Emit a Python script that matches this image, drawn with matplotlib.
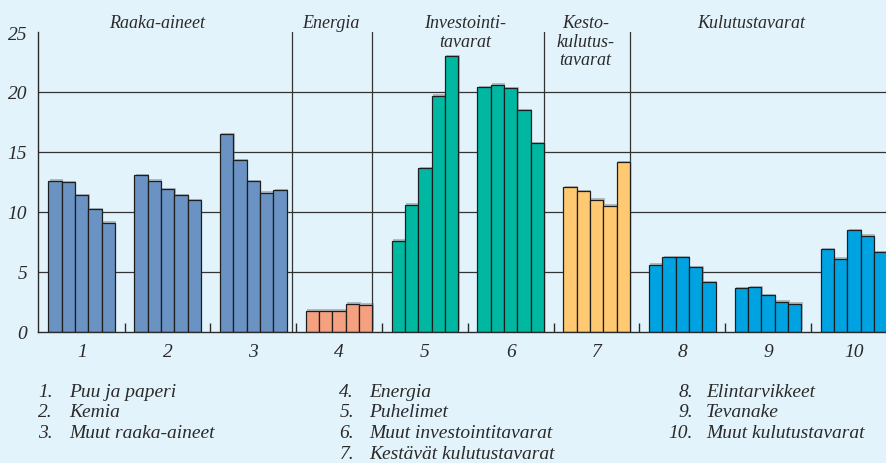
import matplotlib
matplotlib.use("Agg")
import matplotlib.pyplot as plt
import matplotlib.patheffects as pe
import numpy as np

# Five yearly bars per product group
groups = ["1", "2", "3", "4", "5", "6", "7", "8", "9", "10"]
g1_puu = [12.6, 12.45, 11.4, 10.2, 9.1]
g2_kemia = [13.05, 12.6, 11.9, 11.4, 10.95]
g3_muut_raaka = [16.5, 14.3, 12.55, 11.6, 11.8]
g4_energia = [1.75, 1.75, 1.75, 2.35, 2.25]
g5_puhelimet = [7.6, 10.6, 13.65, 19.7, 23.0]
g6_muut_invest = [20.4, 20.6, 20.3, 18.5, 15.7]
g7_kestavat = [12.05, 11.7, 11.0, 10.5, 14.15]
g8_elintarvikkeet = [5.6, 6.2, 6.2, 5.4, 4.15]
g9_tevanake = [3.65, 3.72, 3.07, 2.5, 2.35]
g10_muut_kulutus = [6.9, 6.1, 8.45, 8.0, 6.65]

series = [g1_puu, g2_kemia, g3_muut_raaka, g4_energia, g5_puhelimet,
          g6_muut_invest, g7_kestavat, g8_elintarvikkeet, g9_tevanake,
          g10_muut_kulutus]

c_raaka = "#6A92C2"
c_energia = "#F5A07F"
c_invest = "#00B8A2"
c_kesto = "#FFC972"
c_kulutus = "#00A3E2"
colors = [c_raaka, c_raaka, c_raaka, c_energia, c_invest, c_invest,
          c_kesto, c_kulutus, c_kulutus, c_kulutus]

yticks = [0, 5, 10, 15, 20, 25]
sections = ["Raaka-aineet", "Energia", "Investointi-\ntavarat",
            "Kesto-\nkulutus-\ntavarat", "Kulutustavarat"]
section_x = [1.883, 3.906, 5.467, 6.872, 8.80]
separators = [3.45, 4.389, 6.389, 7.389]

legend_cols = [
    [("1.", "Puu ja paperi"), ("2.", "Kemia"), ("3.", "Muut raaka-aineet")],
    [("4.", "Energia"), ("5.", "Puhelimet"), ("6.", "Muut investointitavarat"),
     ("7.", "Kestävät kulutustavarat")],
    [("8.", "Elintarvikkeet"), ("9.", "Tevanake"), ("10.", "Muut kulutustavarat")],
]

bg = "#E3F3FB"
ink = "#2A2A2A"
font = dict(family="Liberation Serif", style="italic", color=ink)

W, H = 886, 464
fig = plt.figure(figsize=(W / 100, H / 100), dpi=100, facecolor=bg)
ax = fig.add_axes([38.3 / W, 1 - 332.7 / H, (W - 38.3) / W, (332.7 - 33) / H])
ax.set_facecolor(bg)

ax.set_xlim(0.494, 10.374)
ax.set_ylim(0, 25)

# gridlines and group separators behind the bars
for v in yticks[1:-1]:
    ax.axhline(v, color="#333333", lw=0.9, zorder=1)
for s in separators:
    ax.axvline(s, color="#333333", lw=0.9, zorder=1)

bw = 0.1554
offsets = (np.arange(5) - 2) * bw
shadow = [pe.SimplePatchShadow(offset=(1, 1), shadow_rgbFace="#666666", alpha=0.4),
          pe.Normal()]
for i, (vals, col) in enumerate(zip(series, colors)):
    bars = ax.bar(i + 1 + offsets, vals, width=bw, color=col,
                  edgecolor="#1E1E1E", linewidth=0.9, zorder=3)
    for b in bars:
        b.set_path_effects(shadow)

for side in ["top", "right"]:
    ax.spines[side].set_visible(False)
for side in ["left", "bottom"]:
    ax.spines[side].set_color(ink)
    ax.spines[side].set_linewidth(1.0)
    ax.spines[side].set_zorder(4)

ax.set_xticks(np.arange(1, 11))
ax.set_xticklabels(groups, fontsize=14, **font)
ax.set_xticks(np.arange(1.5, 10.5, 1.0), minor=True)
ax.tick_params(axis="x", which="major", length=0, pad=8)
ax.tick_params(axis="x", which="minor", direction="in", length=6.3,
               width=1.0, color=ink)

ax.set_yticks(yticks)
ax.set_yticklabels([str(v) for v in yticks], fontsize=14, **font)
ax.tick_params(axis="y", length=0, pad=8)

# section headings above the plot
for label, x in zip(sections, section_x):
    ax.text(x, 26.5, label, ha="center", va="top", fontsize=13,
            linespacing=1.12, transform=ax.transData, clip_on=False, **font)

# key to the group numbers
col_num_x = [53, 354, 693]
col_txt_x = [69, 369, 706]
row_y = [393, 413, 434, 455]
for col, nx, tx in zip(legend_cols, col_num_x, col_txt_x):
    for (num, name), y in zip(col, row_y):
        fig.text(nx / W, 1 - y / H, num, ha="right", va="center",
                 fontsize=14, **font)
        fig.text(tx / W, 1 - y / H, name, ha="left", va="center",
                 fontsize=14, **font)

fig.savefig("out.png", dpi=100, facecolor=bg)
